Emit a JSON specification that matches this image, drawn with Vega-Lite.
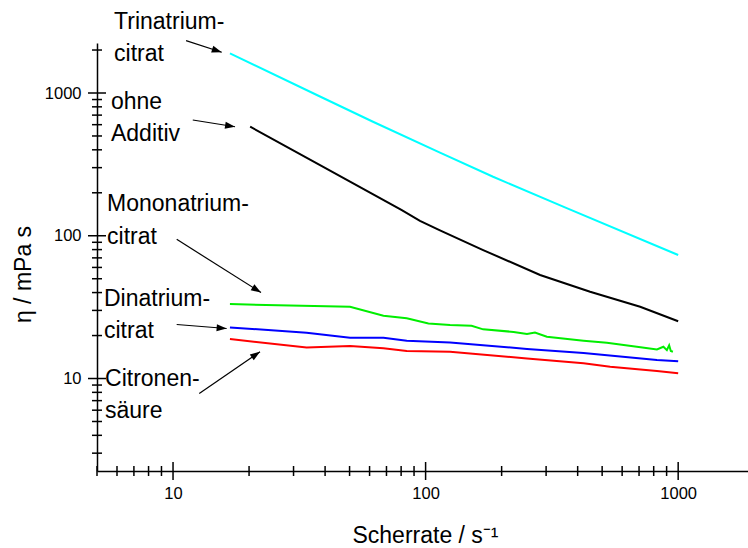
{
  "$schema": "https://vega.github.io/schema/vega-lite/v6.json",
  "width": 651,
  "height": 428,
  "autosize": "none",
  "padding": {"left": 97, "top": 43, "right": 0, "bottom": 77},
  "background": "white",
  "config": {
    "font": "Liberation Sans",
    "view": {"stroke": null},
    "axis": {"grid": false}
  },
  "datasets": {
    "curves": [
      {"rate": 16.8, "eta": 1897, "series": "Trinatriumcitrat"},
      {"rate": 37.1, "eta": 968, "series": "Trinatriumcitrat"},
      {"rate": 61.9, "eta": 629, "series": "Trinatriumcitrat"},
      {"rate": 114, "eta": 382, "series": "Trinatriumcitrat"},
      {"rate": 185, "eta": 259, "series": "Trinatriumcitrat"},
      {"rate": 362, "eta": 156, "series": "Trinatriumcitrat"},
      {"rate": 1000, "eta": 73.3, "series": "Trinatriumcitrat"},
      {"rate": 20.2, "eta": 581, "series": "ohne Additiv"},
      {"rate": 38.2, "eta": 313, "series": "ohne Additiv"},
      {"rate": 80.5, "eta": 151, "series": "ohne Additiv"},
      {"rate": 95, "eta": 127, "series": "ohne Additiv"},
      {"rate": 114, "eta": 109, "series": "ohne Additiv"},
      {"rate": 169, "eta": 79.4, "series": "ohne Additiv"},
      {"rate": 284, "eta": 53.1, "series": "ohne Additiv"},
      {"rate": 448, "eta": 40.5, "series": "ohne Additiv"},
      {"rate": 707, "eta": 31.8, "series": "ohne Additiv"},
      {"rate": 1000, "eta": 25.2, "series": "ohne Additiv"},
      {"rate": 16.8, "eta": 33.2, "series": "Mononatriumcitrat"},
      {"rate": 50.2, "eta": 31.8, "series": "Mononatriumcitrat"},
      {"rate": 68.1, "eta": 27.5, "series": "Mononatriumcitrat"},
      {"rate": 84.2, "eta": 26.4, "series": "Mononatriumcitrat"},
      {"rate": 102.6, "eta": 24.3, "series": "Mononatriumcitrat"},
      {"rate": 125, "eta": 23.7, "series": "Mononatriumcitrat"},
      {"rate": 152, "eta": 23.4, "series": "Mononatriumcitrat"},
      {"rate": 169, "eta": 22.1, "series": "Mononatriumcitrat"},
      {"rate": 223, "eta": 21.2, "series": "Mononatriumcitrat"},
      {"rate": 252, "eta": 20.5, "series": "Mononatriumcitrat"},
      {"rate": 271, "eta": 21.0, "series": "Mononatriumcitrat"},
      {"rate": 302, "eta": 19.6, "series": "Mononatriumcitrat"},
      {"rate": 422, "eta": 18.4, "series": "Mononatriumcitrat"},
      {"rate": 522, "eta": 17.8, "series": "Mononatriumcitrat"},
      {"rate": 686, "eta": 16.7, "series": "Mononatriumcitrat"},
      {"rate": 824, "eta": 16.0, "series": "Mononatriumcitrat"},
      {"rate": 874, "eta": 16.7, "series": "Mononatriumcitrat"},
      {"rate": 902, "eta": 15.8, "series": "Mononatriumcitrat"},
      {"rate": 921, "eta": 17.1, "series": "Mononatriumcitrat"},
      {"rate": 935, "eta": 15.6, "series": "Mononatriumcitrat"},
      {"rate": 953, "eta": 15.4, "series": "Mononatriumcitrat"},
      {"rate": 16.8, "eta": 22.8, "series": "Dinatriumcitrat"},
      {"rate": 33.8, "eta": 20.9, "series": "Dinatriumcitrat"},
      {"rate": 50.2, "eta": 19.3, "series": "Dinatriumcitrat"},
      {"rate": 68.1, "eta": 19.3, "series": "Dinatriumcitrat"},
      {"rate": 84.2, "eta": 18.4, "series": "Dinatriumcitrat"},
      {"rate": 125, "eta": 17.9, "series": "Dinatriumcitrat"},
      {"rate": 252, "eta": 16.1, "series": "Dinatriumcitrat"},
      {"rate": 422, "eta": 15.1, "series": "Dinatriumcitrat"},
      {"rate": 824, "eta": 13.5, "series": "Dinatriumcitrat"},
      {"rate": 1000, "eta": 13.2, "series": "Dinatriumcitrat"},
      {"rate": 16.8, "eta": 18.9, "series": "Citronensäure"},
      {"rate": 33.8, "eta": 16.5, "series": "Citronensäure"},
      {"rate": 50.2, "eta": 16.9, "series": "Citronensäure"},
      {"rate": 68.1, "eta": 16.3, "series": "Citronensäure"},
      {"rate": 84.2, "eta": 15.6, "series": "Citronensäure"},
      {"rate": 125, "eta": 15.4, "series": "Citronensäure"},
      {"rate": 252, "eta": 13.8, "series": "Citronensäure"},
      {"rate": 422, "eta": 12.8, "series": "Citronensäure"},
      {"rate": 538, "eta": 12.1, "series": "Citronensäure"},
      {"rate": 824, "eta": 11.3, "series": "Citronensäure"},
      {"rate": 1000, "eta": 10.9, "series": "Citronensäure"}
    ],
    "labels": [
      {"x": 5.84, "y": 2809, "text": "Trinatrium-"},
      {"x": 5.84, "y": 1676, "text": "citrat"},
      {"x": 5.68, "y": 772, "text": "ohne"},
      {"x": 5.68, "y": 461, "text": "Additiv"},
      {"x": 5.48, "y": 149, "text": "Mononatrium-"},
      {"x": 5.48, "y": 87.4, "text": "citrat"},
      {"x": 5.33, "y": 32.2, "text": "Dinatrium-"},
      {"x": 5.33, "y": 19.2, "text": "citrat"},
      {"x": 5.38, "y": 8.84, "text": "Citronen-"},
      {"x": 5.38, "y": 5.28, "text": "säure"}
    ],
    "arrows": [
      {"x": 11.26, "y": 2326, "x2": 15.59, "y2": 1929, "dir": 18},
      {"x": 11.97, "y": 647, "x2": 17.6, "y2": 580, "dir": 9},
      {"x": 10.34, "y": 94.4, "x2": 22.3, "y2": 40.0, "dir": 32},
      {"x": 10.34, "y": 23.9, "x2": 16.3, "y2": 22.4, "dir": 4.6},
      {"x": 12.7, "y": 7.86, "x2": 22.1, "y2": 15.4, "dir": -34.4}
    ],
    "xticks": [
      {"v": 5, "major": false}, {"v": 6, "major": false}, {"v": 7, "major": false}, {"v": 8, "major": false}, {"v": 9, "major": false},
      {"v": 10, "major": true},
      {"v": 20, "major": false}, {"v": 30, "major": false}, {"v": 40, "major": false}, {"v": 50, "major": false}, {"v": 60, "major": false}, {"v": 70, "major": false}, {"v": 80, "major": false}, {"v": 90, "major": false},
      {"v": 100, "major": true},
      {"v": 200, "major": false}, {"v": 300, "major": false}, {"v": 400, "major": false}, {"v": 500, "major": false}, {"v": 600, "major": false}, {"v": 700, "major": false}, {"v": 800, "major": false}, {"v": 900, "major": false},
      {"v": 1000, "major": true}
    ],
    "yticks": [
      {"v": 3, "major": false}, {"v": 4, "major": false}, {"v": 5, "major": false}, {"v": 6, "major": false}, {"v": 7, "major": false}, {"v": 8, "major": false}, {"v": 9, "major": false},
      {"v": 10, "major": true},
      {"v": 20, "major": false}, {"v": 30, "major": false}, {"v": 40, "major": false}, {"v": 50, "major": false}, {"v": 60, "major": false}, {"v": 70, "major": false}, {"v": 80, "major": false}, {"v": 90, "major": false},
      {"v": 100, "major": true},
      {"v": 200, "major": false}, {"v": 300, "major": false}, {"v": 400, "major": false}, {"v": 500, "major": false}, {"v": 600, "major": false}, {"v": 700, "major": false}, {"v": 800, "major": false}, {"v": 900, "major": false},
      {"v": 1000, "major": true},
      {"v": 2000, "major": false}
    ]
  },
  "layer": [
    {
      "data": {"name": "curves"},
      "mark": {"type": "line", "strokeWidth": 2, "clip": true},
      "encoding": {
        "x": {
          "field": "rate",
          "type": "quantitative",
          "scale": {"type": "log", "domain": [5, 1890], "nice": false},
          "axis": {
            "title": "Scherrate / s⁻¹",
            "values": [10, 100, 1000],
            "format": "d",
            "ticks": false,
            "labelFontSize": 16.5,
            "labelPadding": 14,
            "labelOverlap": false,
            "labelFlush": false,
            "labelColor": "black",
            "titleFontSize": 23,
            "titleFontWeight": "normal",
            "titleColor": "black",
            "titleX": 328,
            "titleY": 71,
            "titleAlign": "center",
            "titleBaseline": "alphabetic",
            "domainColor": "black",
            "domainWidth": 1.5
          }
        },
        "y": {
          "field": "eta",
          "type": "quantitative",
          "scale": {"type": "log", "domain": [2.25, 2240], "nice": false},
          "axis": {
            "title": "η / mPa s",
            "values": [10, 100, 1000],
            "format": "d",
            "ticks": false,
            "labelFontSize": 16.5,
            "labelPadding": 16,
            "labelOverlap": false,
            "labelFlush": false,
            "labelColor": "black",
            "titleFontSize": 23,
            "titleFontWeight": "normal",
            "titleColor": "black",
            "titleAngle": 270,
            "titleX": -67,
            "titleY": 231,
            "titleAlign": "center",
            "titleBaseline": "alphabetic",
            "domainColor": "black",
            "domainWidth": 1.5
          }
        },
        "color": {
          "field": "series",
          "type": "nominal",
          "scale": {
            "domain": ["Trinatriumcitrat", "ohne Additiv", "Mononatriumcitrat", "Dinatriumcitrat", "Citronensäure"],
            "range": ["#00FFFF", "#000000", "#00EE00", "#0000FF", "#FF0000"]
          },
          "legend": null
        }
      }
    },
    {
      "data": {"name": "xticks"},
      "mark": {"type": "tick", "orient": "vertical", "color": "black", "thickness": 1.5, "opacity": 1},
      "encoding": {
        "x": {"field": "v", "type": "quantitative", "scale": {"type": "log", "domain": [5, 1890], "nice": false}},
        "y": {"datum": 2.25, "type": "quantitative", "scale": {"type": "log", "domain": [2.25, 2240], "nice": false}},
        "size": {"condition": {"test": "datum.major", "value": 18}, "value": 10}
      }
    },
    {
      "data": {"name": "yticks"},
      "mark": {"type": "tick", "orient": "horizontal", "color": "black", "thickness": 1.5, "opacity": 1},
      "encoding": {
        "y": {"field": "v", "type": "quantitative", "scale": {"type": "log", "domain": [2.25, 2240], "nice": false}},
        "x": {"datum": 5, "type": "quantitative", "scale": {"type": "log", "domain": [5, 1890], "nice": false}},
        "size": {"condition": {"test": "datum.major", "value": 18}, "value": 10}
      }
    },
    {
      "data": {"name": "arrows"},
      "mark": {"type": "rule", "color": "black", "strokeWidth": 1.2},
      "encoding": {
        "x": {"field": "x", "type": "quantitative", "scale": {"type": "log", "domain": [5, 1890], "nice": false}},
        "y": {"field": "y", "type": "quantitative", "scale": {"type": "log", "domain": [2.25, 2240], "nice": false}},
        "x2": {"field": "x2"},
        "y2": {"field": "y2"}
      }
    },
    {
      "data": {"name": "arrows"},
      "mark": {"type": "point", "shape": "M0,0L-1,-0.35L-1,0.35Z", "filled": true, "color": "black", "opacity": 1, "size": 400, "strokeWidth": 0},
      "encoding": {
        "x": {"field": "x2", "type": "quantitative", "scale": {"type": "log", "domain": [5, 1890], "nice": false}},
        "y": {"field": "y2", "type": "quantitative", "scale": {"type": "log", "domain": [2.25, 2240], "nice": false}},
        "angle": {"field": "dir", "type": "quantitative", "scale": null}
      }
    },
    {
      "data": {"name": "labels"},
      "mark": {"type": "text", "align": "left", "baseline": "alphabetic", "fontSize": 23, "font": "Liberation Sans", "color": "black"},
      "encoding": {
        "x": {"field": "x", "type": "quantitative", "scale": {"type": "log", "domain": [5, 1890], "nice": false}},
        "y": {"field": "y", "type": "quantitative", "scale": {"type": "log", "domain": [2.25, 2240], "nice": false}},
        "text": {"field": "text", "type": "nominal"}
      }
    }
  ]
}
